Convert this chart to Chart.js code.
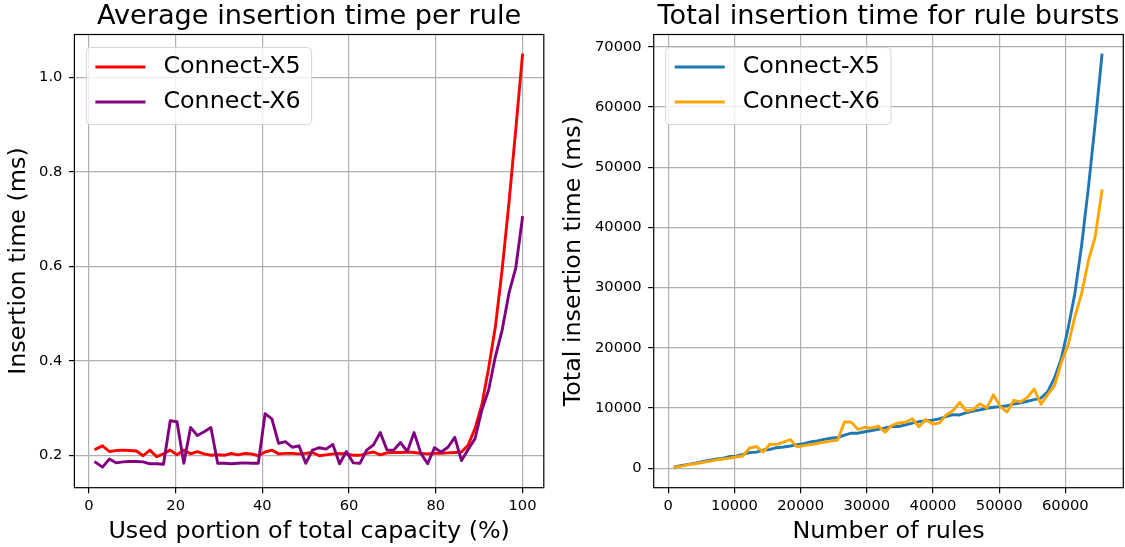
<!DOCTYPE html>
<html><head><meta charset="utf-8">
<script src="https://cdn.jsdelivr.net/npm/chart.js@4.4.1/dist/chart.umd.min.js"></script>
<style>
html,body{margin:0;padding:0;background:#fff;overflow:hidden}
canvas{position:absolute;top:0}
#left{left:0}#right{left:560px}
</style></head><body>
<canvas id="left" width="560" height="547"></canvas>
<canvas id="right" width="565" height="547"></canvas>
<script>
// left plot: average time per rule vs used capacity
const capacityPct=[1.56,3.13,4.69,6.25,7.81,9.38,10.94,12.5,14.06,15.63,17.19,18.75,20.31,21.88,23.44,25,
  26.56,28.13,29.69,31.25,32.81,34.38,35.94,37.5,39.06,40.63,42.19,43.75,45.31,46.88,48.44,50,
  51.56,53.13,54.69,56.25,57.81,59.38,60.94,62.5,64.06,65.63,67.19,68.75,70.31,71.88,73.44,75,
  76.56,78.13,79.69,81.25,82.81,84.38,85.94,87.5,89.06,90.63,92.19,93.75,95.31,96.88,98.44,100];
const avgX5=[0.213,0.220,0.208,0.210,0.211,0.210,0.209,0.199,0.211,0.197,0.203,0.211,0.201,0.211,0.203,0.208,
  0.203,0.200,0.201,0.200,0.204,0.201,0.204,0.203,0.199,0.207,0.211,0.203,0.204,0.204,0.203,0.204,
  0.206,0.199,0.201,0.203,0.204,0.203,0.200,0.200,0.204,0.207,0.201,0.205,0.206,0.206,0.207,0.206,
  0.204,0.203,0.204,0.204,0.205,0.206,0.207,0.222,0.257,0.307,0.384,0.472,0.593,0.734,0.888,1.047];
const avgX6=[0.185,0.175,0.192,0.184,0.186,0.187,0.187,0.186,0.182,0.182,0.181,0.273,0.271,0.183,0.259,0.242,
  0.250,0.259,0.183,0.183,0.182,0.183,0.184,0.183,0.183,0.288,0.277,0.225,0.229,0.217,0.220,0.183,
  0.211,0.216,0.213,0.223,0.182,0.208,0.184,0.183,0.211,0.222,0.248,0.211,0.211,0.227,0.208,0.248,
  0.204,0.182,0.216,0.207,0.217,0.238,0.189,0.213,0.235,0.296,0.338,0.409,0.465,0.543,0.596,0.703];

// right plot: total time for bursts of rules
const ruleCounts=[1024,2048,3072,4096,5120,6144,7168,8192,9216,10240,11264,12288,13312,14336,15360,16384,
  17408,18432,19456,20480,21504,22528,23552,24576,25600,26624,27648,28672,29696,30720,31744,32768,
  33792,34816,35840,36864,37888,38912,39936,40960,41984,43008,44032,45056,46080,47104,48128,49152,
  50176,51200,52224,53248,54272,55296,56320,57344,58368,59392,60416,61440,62464,63488,64512,65536];
const totalX5=[218,451,639,860,1080,1290,1498,1630,1945,2017,2287,2593,2676,3025,3118,3408,
  3534,3686,3911,4096,4387,4528,4805,4989,5094,5511,5834,5820,6058,6267,6444,6685,
  6961,6928,7204,7483,7729,7899,7987,8192,8565,8903,8850,9236,9492,9703,9962,10125,
  10236,10394,10654,10863,11126,11391,11658,12730,15001,18233,23200,29000,37041,46600,57287,68616];
const totalX6=[189,358,590,754,952,1149,1340,1524,1677,1864,2039,3355,3608,2700,3978,3965,
  4352,4774,3560,3748,3914,4123,4334,4497,4685,7668,7658,6451,6800,6666,6984,5997,
  7130,7520,7634,8221,6896,8094,7348,7496,8859,9548,10920,9507,9723,10693,10011,12190,
  10236,9318,11280,11022,11777,13160,10644,12214,13716,17580,20421,25129,29046,34474,38449,46072];

const pctTicks=[0,20,40,60,80,100];
const avgTicks=[0.2,0.4,0.6,0.8,1.0];
const ruleTicks=[0,10000,20000,30000,40000,50000,60000];
const totalTicks=[0,10000,20000,30000,40000,50000,60000,70000];

const FONT='"DejaVu Sans", sans-serif';
Chart.defaults.font.family=FONT;
Chart.defaults.color='#000';

// matplotlib-like frame, title centred on the axes, legend box in upper left
const frameLegend={id:'frameLegend',afterDraw(c,args,opts){
  const {ctx,chartArea:a}=c;
  ctx.save();
  ctx.strokeStyle='#000';ctx.lineWidth=1.2;
  ctx.strokeRect(a.left,a.top,a.right-a.left,a.bottom-a.top);
  ctx.fillStyle='#000';ctx.textBaseline='middle';ctx.textAlign='center';
  ctx.font='27.2px '+FONT;
  ctx.fillText(opts.title,(a.left+a.right)/2,16.8);
  ctx.font='23.8px '+FONT;ctx.textAlign='left';
  const ds=c.data.datasets;
  const tw=Math.max(...ds.map(d=>ctx.measureText(d.label).width));
  const x0=a.left+12,y0=a.top+13,w=tw+88,h=77;
  ctx.beginPath();ctx.roundRect(x0,y0,w,h,4);
  ctx.fillStyle='rgba(255,255,255,0.8)';ctx.fill();
  ctx.strokeStyle='#d6d6d6';ctx.lineWidth=1;ctx.stroke();
  ds.forEach((d,i)=>{
    const y=y0+19.5+35*i;
    ctx.strokeStyle=d.borderColor;ctx.lineWidth=2.9;ctx.lineCap='butt';
    ctx.beginPath();ctx.moveTo(x0+9,y);ctx.lineTo(x0+59,y);ctx.stroke();
    ctx.fillStyle='#000';
    ctx.fillText(d.label,x0+77,y);
  });
  ctx.restore();
}};

function axis(min,max,ticks,fmt,title,size,isY,titlePad,tickPad){
  return {type:'linear',min,max,
    afterFit(s){if(isY)s.width=size;else s.height=size;},
    afterBuildTicks(s){s.ticks=ticks.map(v=>({value:v}));},
    ticks:{callback:fmt,font:{size:14.7},color:'#000',padding:tickPad,maxRotation:0,autoSkip:false},
    grid:{color:'#b0b0b0',lineWidth:1.2,tickColor:'#000',tickLength:5.5,tickWidth:1.2},
    border:{display:false},
    title:{display:true,text:title,font:{size:23.8},color:'#000',padding:titlePad}};
}

function line(label,xs,ys,color,order){
  return {label,data:xs.map((x,i)=>({x,y:ys[i]})),borderColor:color,backgroundColor:color,
    borderWidth:2.9,pointRadius:0,tension:0,borderJoinStyle:'round',borderCapStyle:'square',order};
}

function makeChart(id,title,datasets,xAxis,yAxis,padRight){
  return new Chart(document.getElementById(id),{type:'line',
    data:{datasets},
    options:{responsive:false,animation:false,devicePixelRatio:1,
      layout:{padding:{left:0,right:padRight,top:34.5,bottom:0}},
      scales:{x:xAxis,y:yAxis},
      plugins:{legend:{display:false},tooltip:{enabled:false},title:{display:false},
        frameLegend:{title}}},
    plugins:[frameLegend]});
}

makeChart('left','Average insertion time per rule',
  [line('Connect-X5',capacityPct,avgX5,'#ff0000',1),line('Connect-X6',capacityPct,avgX6,'#800080',0)],
  axis(-3.36,104.92,pctTicks,v=>String(v),'Used portion of total capacity (%)',59.3,false,{top:0,bottom:1},4.6),
  axis(0.1314,1.0906,avgTicks,v=>v.toFixed(1),'Insertion time (ms)',74.4,true,{top:4.5,bottom:0},6.5),
  16.2);

makeChart('right','Total insertion time for rule bursts',
  [line('Connect-X5',ruleCounts,totalX5,'#1f77b4',1),line('Connect-X6',ruleCounts,totalX6,'#ffa500',0)],
  axis(-2201.6,68761.6,ruleTicks,v=>String(v),'Number of rules',59.3,false,{top:0,bottom:1},4.6),
  axis(-3232,72037,totalTicks,v=>String(v),'Total insertion time (ms)',93.7,true,{top:0,bottom:0},6.5),
  1.7);
</script>
</body></html>
